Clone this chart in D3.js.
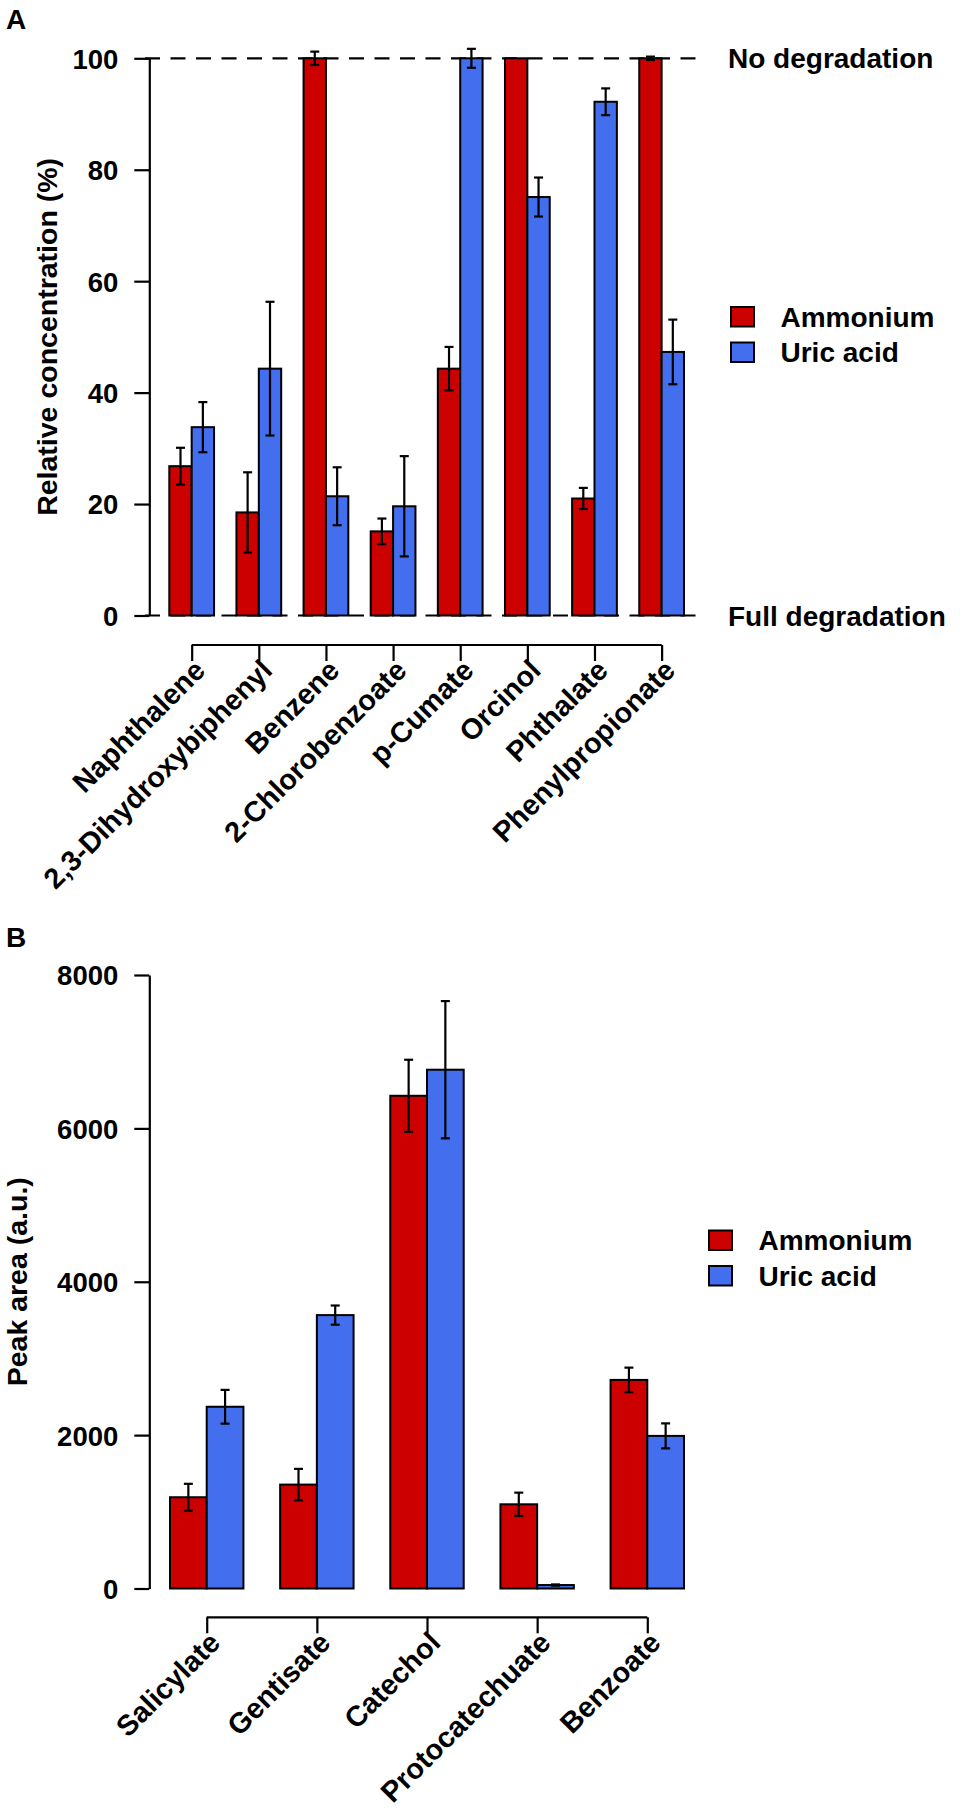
<!DOCTYPE html>
<html>
<head>
<meta charset="utf-8">
<script src="https://cdn.jsdelivr.net/npm/d3@7"></script>
<style>
  body { margin: 0; background: #fff; }
  svg text { font-family: "Liberation Sans", Arial, sans-serif; font-weight: bold; fill: #000; }
</style>
</head>
<body>
<script>

// panel A data
var compoundsA = ["Naphthalene", "2,3-Dihydroxybiphenyl", "Benzene", "2-Chlorobenzoate",
                  "p-Cumate", "Orcinol", "Phthalate", "Phenylpropionate"];
var ammoniumA    = [26.8, 18.5, 100, 15.1, 44.3, 100, 21.0, 100];
var ammoniumErrA = [3.3, 7.2, 1.2, 2.3, 3.9, 0, 1.9, 0.3];
var uricA        = [33.8, 44.3, 21.4, 19.6, 100, 75.1, 92.2, 47.3];
var uricErrA     = [4.5, 12.0, 5.2, 9.0, 1.7, 3.5, 2.4, 5.8];
var ticksA = [0, 20, 40, 60, 80, 100];

// panel B data
var compoundsB = ["Salicylate", "Gentisate", "Catechol", "Protocatechuate", "Benzoate"];
var ammoniumB    = [1190, 1355, 6425, 1098, 2720];
var ammoniumErrB = [175, 205, 470, 152, 160];
var uricB        = [2370, 3565, 6765, 45, 1990];
var uricErrB     = [220, 125, 895, 8, 163];
var ticksB = [0, 2000, 4000, 6000, 8000];

var seriesNames = ["Ammonium", "Uric acid"];
var colors = ["#CD0000", "#436EEE"];

var svg = d3.select("body").append("svg")
    .attr("width", 960)
    .attr("height", 1815);

function drawPanel(p) {
    var g = svg.append("g");
    var n = p.names.length;

    // each group = 1 empty unit + 2 bars
    var x = d3.scaleLinear().domain([1, 3 * n]).range([p.left, 684]);
    var y = d3.scaleLinear().domain(p.domain).range([p.bottom, p.top]);

    var rows = [];
    p.names.forEach(function (nm, i) {
        rows.push({ s: 0, i: i, v: p.amm[i], e: p.ammErr[i] });
        rows.push({ s: 1, i: i, v: p.uric[i], e: p.uricErr[i] });
    });

    if (p.refLines) {
        g.selectAll("line.ref")
            .data(p.refLines)
            .enter()
            .append("line")
            .attr("x1", 145).attr("x2", 698)
            .attr("y1", function (d) { return y(d); })
            .attr("y2", function (d) { return y(d); })
            .attr("stroke", "#000")
            .attr("stroke-width", 2.2)
            .attr("stroke-dasharray", "15,10.5");
    }

    g.selectAll("rect.bar")
        .data(rows)
        .enter()
        .append("rect")
        .attr("x", function (d) { return x(1 + 3 * d.i + d.s); })
        .attr("width", function (d) { return x(2) - x(1); })
        .attr("y", function (d) { return y(d.v); })
        .attr("height", function (d) { return y(0) - y(d.v); })
        .attr("fill", function (d) { return colors[d.s]; })
        .attr("stroke", "#000")
        .attr("stroke-width", 2);

    // error bars
    var eb = g.selectAll("g.err")
        .data(rows.filter(function (d) { return d.e > 0; }))
        .enter()
        .append("g")
        .attr("stroke", "#000")
        .attr("stroke-width", 2.2);
    function cx(d) { return x(1.5 + 3 * d.i + d.s); }
    eb.append("line")
        .attr("x1", cx).attr("x2", cx)
        .attr("y1", function (d) { return y(d.v - d.e); })
        .attr("y2", function (d) { return y(d.v + d.e); });
    [-1, 1].forEach(function (sgn) {
        eb.append("line")
            .attr("x1", function (d) { return cx(d) - 4.5; })
            .attr("x2", function (d) { return cx(d) + 4.5; })
            .attr("y1", function (d) { return y(d.v + sgn * d.e); })
            .attr("y2", function (d) { return y(d.v + sgn * d.e); });
    });

    // y axis
    var yAxis = g.append("g")
        .attr("transform", "translate(149.3,0)")
        .call(d3.axisLeft(y).tickValues(p.ticks).tickFormat(d3.format("d"))
            .tickSize(15).tickSizeOuter(0).tickPadding(16));
    yAxis.select(".domain").attr("stroke-width", 2.2);
    yAxis.selectAll(".tick line").attr("stroke-width", 2.2);
    yAxis.selectAll(".tick text")
        .attr("font-size", 27.5)
        .attr("font-family", "Liberation Sans, Arial, sans-serif")
        .attr("dy", "0.36em");

    // category axis below the plot
    var centers = p.names.map(function (nm, i) { return x(2 + 3 * i); });
    var xAxis = g.append("g")
        .attr("transform", "translate(0," + p.axisY + ")")
        .call(d3.axisBottom(x).tickValues(p.names.map(function (nm, i) { return 2 + 3 * i; }))
            .tickSize(16).tickFormat(""));
    xAxis.select(".domain").remove();
    xAxis.selectAll(".tick line").attr("stroke-width", 2.2);
    xAxis.append("line")
        .attr("x1", centers[0]).attr("x2", centers[n - 1])
        .attr("y1", 0).attr("y2", 0)
        .attr("stroke", "#000").attr("stroke-width", 2.2);

    g.selectAll("text.cat")
        .data(p.names)
        .enter()
        .append("text")
        .attr("class", "cat")
        .attr("font-size", 28.8)
        .attr("text-anchor", "end")
        .attr("dy", "0.35em")
        .attr("transform", function (d, i) {
            return "translate(" + (centers[i] + 8) + "," + (p.axisY + 20) + ") rotate(-45)";
        })
        .text(function (d) { return d; });

    // y title
    g.append("text")
        .attr("font-size", 28.5)
        .attr("text-anchor", "middle")
        .attr("transform", "translate(" + p.titleX + "," + ((p.top + p.bottom) / 2) + ") rotate(-90)")
        .text(p.title);

    // panel letter
    g.append("text")
        .attr("font-size", 28)
        .attr("x", 6)
        .attr("y", p.letterY)
        .text(p.letter);

    // legend
    var lg = g.selectAll("g.leg")
        .data(seriesNames)
        .enter()
        .append("g")
        .attr("transform", function (d, i) {
            return "translate(" + p.legX + "," + (p.legY + i * 35.5) + ")";
        });
    lg.append("rect")
        .attr("x", 0).attr("y", -19.5)
        .attr("width", 23).attr("height", 19.5)
        .attr("fill", function (d, i) { return colors[i]; })
        .attr("stroke", "#000")
        .attr("stroke-width", 2);
    lg.append("text")
        .attr("x", 49.5)
        .attr("y", 0)
        .attr("font-size", 28)
        .text(function (d) { return d; });

    if (p.refText) {
        p.refText.forEach(function (t) {
            g.append("text")
                .attr("x", 728)
                .attr("y", y(t.v))
                .attr("dy", "0.36em")
                .attr("font-size", 28)
                .text(t.label);
        });
    }
}

drawPanel({
    letter: "A", letterY: 29,
    names: compoundsA, amm: ammoniumA, ammErr: ammoniumErrA, uric: uricA, uricErr: uricErrA,
    ticks: ticksA, domain: [0, 100],
    left: 169.3, top: 58.3, bottom: 615.5, axisY: 645,
    title: "Relative concentration (%)", titleX: 57,
    legX: 731, legY: 326.5,
    refLines: [0, 100],
    refText: [{ v: 100, label: "No degradation" }, { v: 0, label: "Full degradation" }]
});

drawPanel({
    letter: "B", letterY: 947,
    names: compoundsB, amm: ammoniumB, ammErr: ammoniumErrB, uric: uricB, uricErr: uricErrB,
    ticks: ticksB, domain: [0, 8000],
    left: 170, top: 975, bottom: 1588.5, axisY: 1617.3,
    title: "Peak area (a.u.)", titleX: 27,
    legX: 709, legY: 1250
});

</script>
</body>
</html>
